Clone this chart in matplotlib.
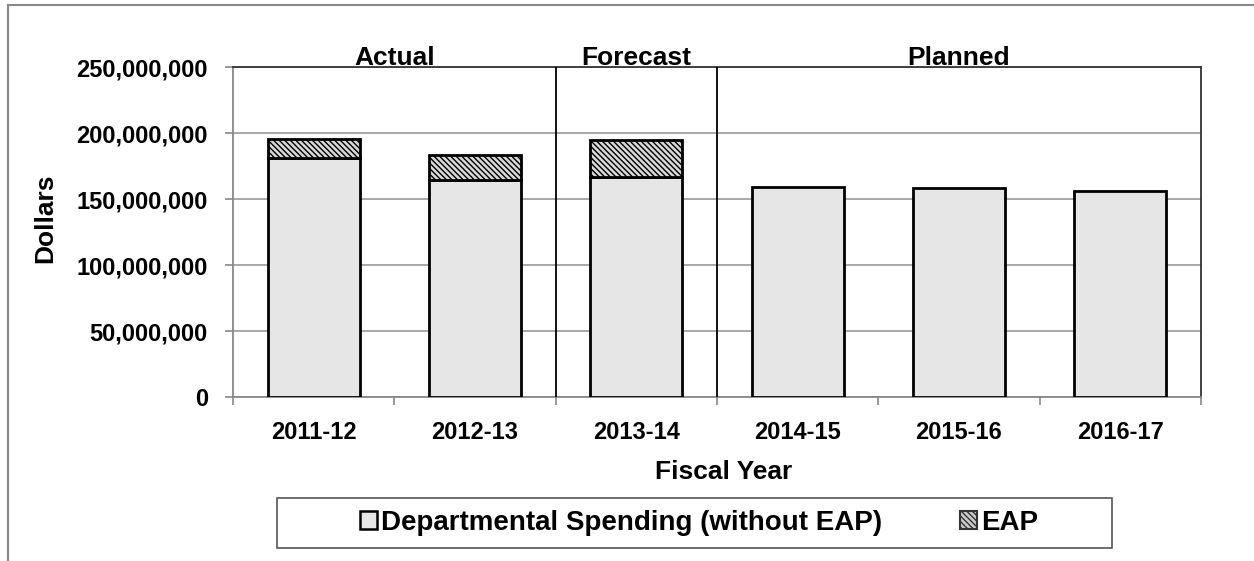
import matplotlib
matplotlib.use("Agg")
import matplotlib.pyplot as plt
import matplotlib.transforms as mtransforms
from matplotlib.patches import Patch, Rectangle
from matplotlib.lines import Line2D
from matplotlib.ticker import FuncFormatter, FixedLocator

plt.rcParams['font.family'] = ['Liberation Sans', 'DejaVu Sans']
plt.rcParams['font.weight'] = 'bold'
plt.rcParams['hatch.color'] = '#555555'
plt.rcParams['hatch.linewidth'] = 1.0

years = ["2011-12", "2012-13", "2013-14", "2014-15", "2015-16", "2016-17"]
dept = [181_000_000, 164_600_000, 167_000_000, 158_800_000, 158_600_000, 155_800_000]
eap = [14_500_000, 19_000_000, 27_400_000, 0, 0, 0]
periods = ["Actual", "Forecast", "Planned"]
period_centers = [0.5, 2, 4]
period_breaks = [1.5, 2.5]

W, H = 1254, 561
fig = plt.figure(figsize=(W/100, H/100), dpi=100)
ax = fig.add_axes([233/W, 1-397/H, (1201-233)/W, (397-67)/H])

x = list(range(len(years)))
w = 0.57
ax.bar(x, dept, width=w, color='#e6e6e6', edgecolor='black', linewidth=2, zorder=3,
       label='Departmental Spending (without EAP)')
ax.bar(x[:3], eap[:3], bottom=dept[:3], width=w, color='#d9d9d9', edgecolor='black',
       linewidth=2, hatch='\\\\\\\\\\\\', zorder=3, label='EAP')

ax.set_xlim(-0.5, 5.5)
ax.set_ylim(0, 250_000_000)
ax.set_yticks(range(0, 250_000_001, 50_000_000))
ax.yaxis.set_major_formatter(FuncFormatter(lambda v, p: f"{int(v):,}"))
ax.grid(axis='y', color='#999999', linewidth=1.2, zorder=0)

ax.set_xticks(x)
ax.set_xticklabels(years)
ax.xaxis.set_minor_locator(FixedLocator([-0.5 + i for i in range(7)]))
ax.tick_params(axis='x', which='major', length=0, pad=17, labelsize=17)
ax.tick_params(axis='x', which='minor', length=6, width=1.2, color='#888888')
ax.tick_params(axis='y', length=6, width=1.2, color='#888888', pad=12, labelsize=17)

for b in period_breaks:
    ax.axvline(b, color='black', linewidth=1.3, zorder=4)

for s in ['left', 'bottom']:
    ax.spines[s].set_color('#888888')
    ax.spines[s].set_linewidth(1.3)
for s in ['top', 'right']:
    ax.spines[s].set_color('#333333')
    ax.spines[s].set_linewidth(1.3)

trans = mtransforms.blended_transform_factory(ax.transData, fig.transFigure)
for name, c in zip(periods, period_centers):
    ax.text(c, 1-65/H, name, transform=trans,
            ha='center', va='baseline', fontsize=19, fontweight='bold', zorder=5)

ax.set_xlabel("Fiscal Year", fontsize=19, fontweight='bold', labelpad=12)
ax.xaxis.label.set_x(0.507)
fig.text(45/W, 1-218/H, "Dollars", rotation=90, ha='center', va='center',
         fontsize=19, fontweight='bold')

# legend frame
fig.add_artist(Rectangle((277/W, 1-548/H), (1112-277)/W, 50/H, transform=fig.transFigure,
                         facecolor='white', edgecolor='#555555', linewidth=1.2, zorder=1))
handles = [Patch(facecolor='#e6e6e6', edgecolor='black', linewidth=1.8),
           Patch(facecolor='#cccccc', edgecolor='#333333', linewidth=1.5, hatch='\\\\\\\\\\\\')]
leg = fig.legend(handles, ['Departmental Spending (without EAP)', 'EAP'],
                 loc='center', bbox_to_anchor=(699/W, 1-523/H),
                 ncol=2, frameon=False,
                 prop={'size': 20, 'weight': 'bold'}, handlelength=0.6, handleheight=0.6,
                 handletextpad=0.15, columnspacing=2.8, borderaxespad=0, borderpad=0)
leg.set_zorder(2)

fig.add_artist(Line2D([8/W, 1], [1-5/H, 1-5/H], color='#888888', linewidth=1.5))
fig.add_artist(Line2D([8/W, 8/W], [0, 1-5/H], color='#888888', linewidth=1.5))

fig.savefig("out.png", dpi=100)
